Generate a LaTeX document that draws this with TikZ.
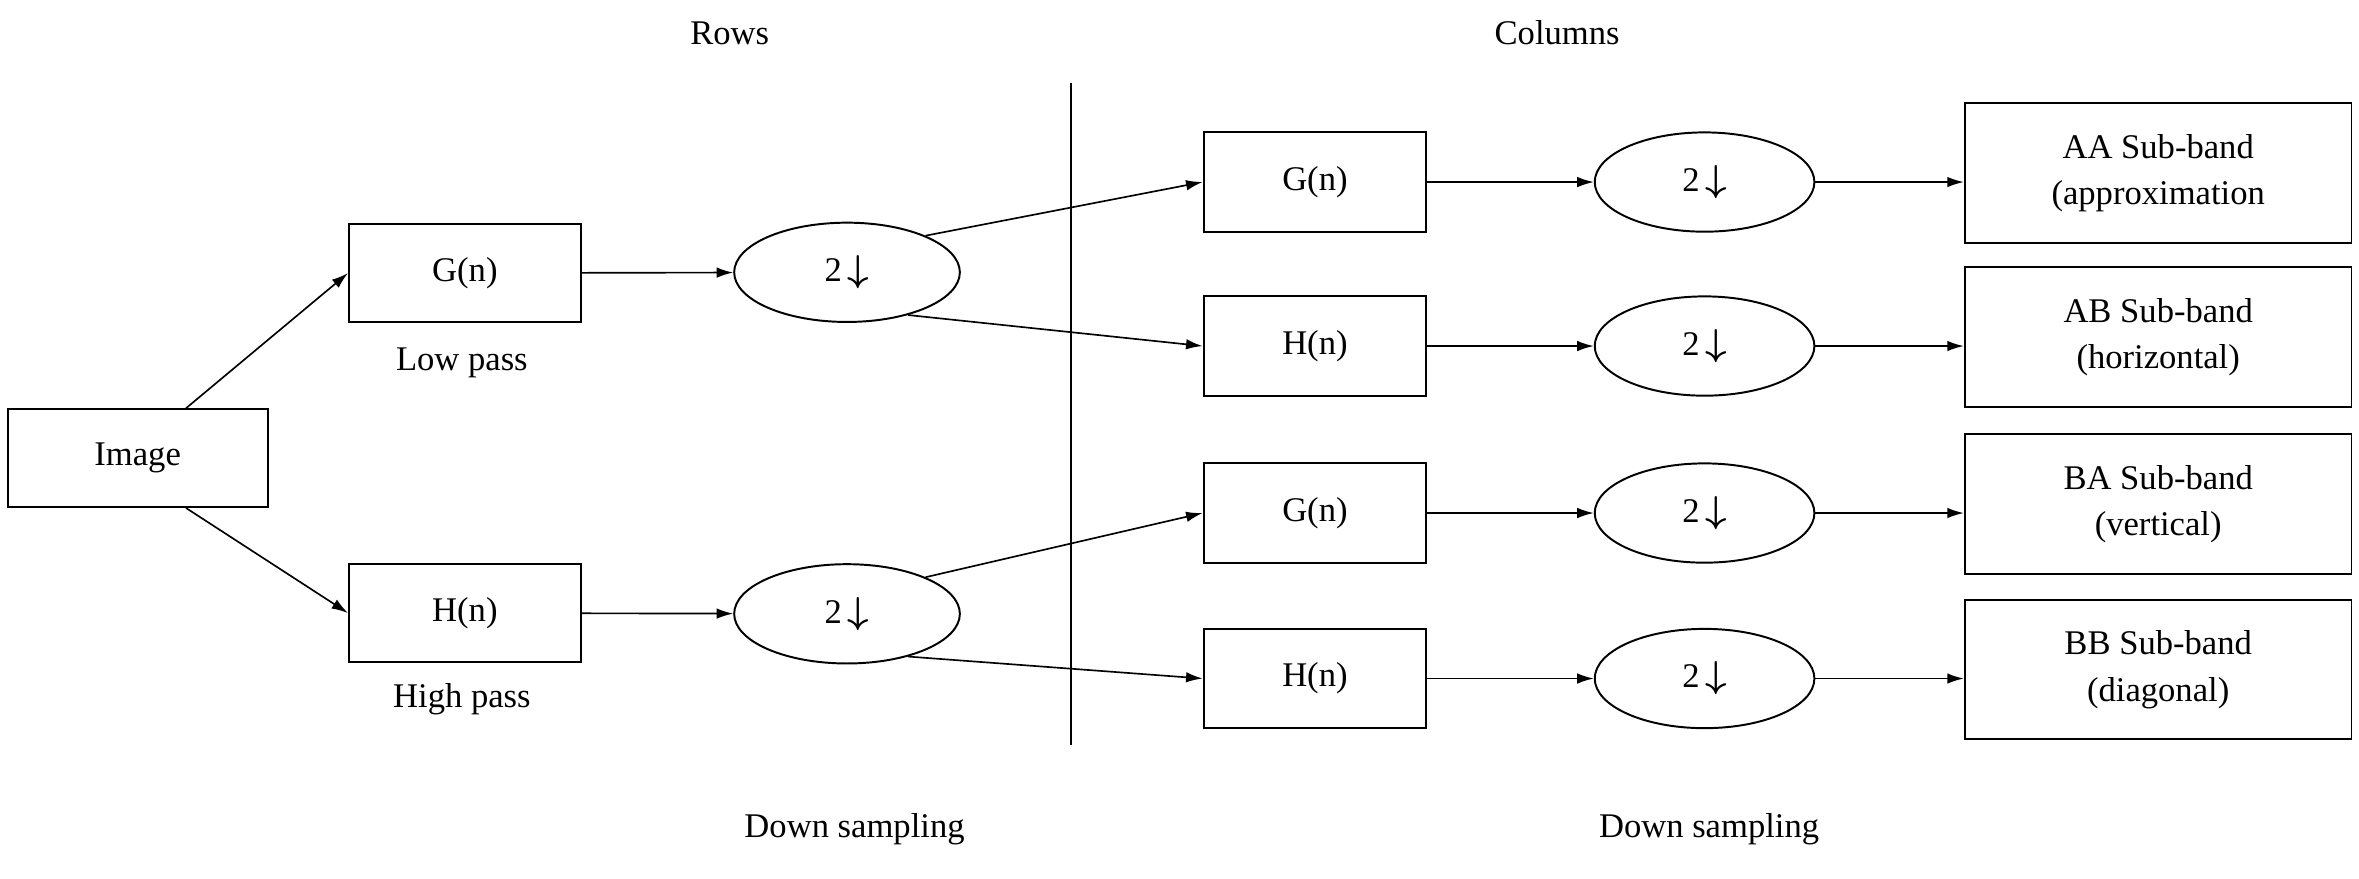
\documentclass[tikz,border=0pt]{standalone}
\usepackage{fontspec}
\usepackage{amsmath,amssymb}
\setmainfont{Liberation Serif}
\usetikzlibrary{arrows.meta,shapes.geometric}
\begin{document}
\begin{tikzpicture}[x=1pt,y=-1pt,
  box/.style={draw,line width=1.3pt,inner sep=0pt,font=\fontsize{23}{27}\selectfont,align=center},
  ell/.style={draw,ellipse,line width=1.3pt,inner sep=0pt,font=\fontsize{23}{27}\selectfont},
  lab/.style={font=\fontsize{23}{27}\selectfont},
  arr/.style={-{Latex[length=11pt,width=7pt]},line width=1.1pt}]
\useasboundingbox (0,0) rectangle (1568,584);
\newcommand{\dn}{2\,$\boldsymbol{\downarrow}$}
\node[box,minimum width=173pt,minimum height=65pt] (img) at (91.5,304.5) {Image};
\node[box,minimum width=154pt,minimum height=65pt] (g1) at (309,181.5) {G(n)};
\node[box,minimum width=154pt,minimum height=65pt] (h1) at (309,407.5) {H(n)};
\node[lab] (lp) at (307,241) {Low pass};
\node[lab] (hp) at (307,465) {High pass};
\node[ell,minimum width=150pt,minimum height=66pt] (e1) at (563,181) {\dn};
\node[ell,minimum width=150pt,minimum height=66pt] (e2) at (563,408) {\dn};
\draw[line width=1.1pt] (712,55) coordinate (v1) -- (712,495) coordinate (v2);
\node[lab] (rows) at (485,22) {Rows};
\node[lab] (cols) at (1035,22) {Columns};
\node[lab] (ds1) at (568,551) {Down sampling};
\node[lab] (ds2) at (1136,551) {Down sampling};
\foreach \n/\t/\y/\a/\b in {1/G(n)/121/AA Sub-band/(approximation,2/H(n)/230/AB Sub-band/(horizontal),3/G(n)/341/BA Sub-band/(vertical),4/H(n)/451/BB Sub-band/(diagonal)}{
  \node[box,minimum width=148pt,minimum height=66pt] (f\n) at (874,\y) {\t};
  \node[ell,minimum width=146pt,minimum height=66pt] (d\n) at (1133,\y) {\dn};
  \node[box,minimum width=257pt,minimum height=93pt] (o\n) at (1434.5,\y-6) {\a\\[4pt]\b};
  \draw[arr] (f\n) -- (d\n);
  \draw[arr] (d\n.east) -- (o\n.west |- d\n.east);
}
\draw[arr] (img.north east) ++(-55,0) -- (g1.west);
\draw[arr] (img.south east) ++(-55,0) -- (h1.west);
\draw[arr] (g1) -- (e1);
\draw[arr] (h1) -- (e2);
\draw[arr] (e1.25) -- (f1.west);
\draw[arr] (e1.-35) -- (f2.west);
\draw[arr] (e2.25) -- (f3.west);
\draw[arr] (e2.-35) -- (f4.west);
\end{tikzpicture}
\end{document}
